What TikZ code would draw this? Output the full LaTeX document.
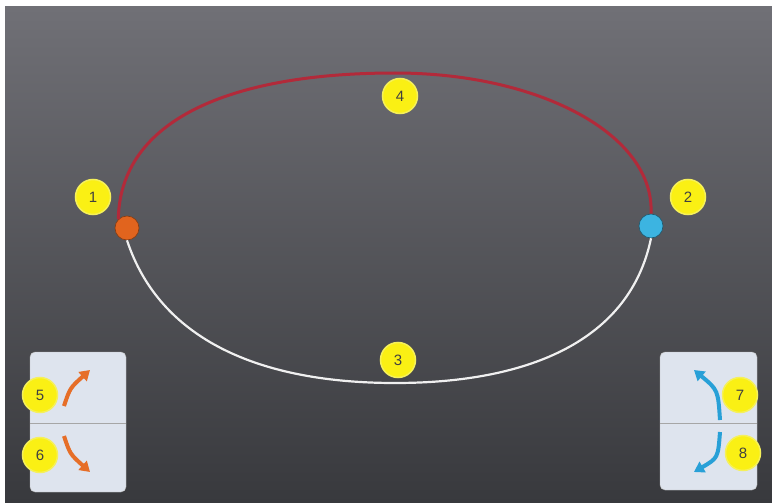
\documentclass[tikz,border=0pt]{standalone}
\usepackage{fontspec}
\setmainfont{Liberation Sans}
\usetikzlibrary{arrows.meta}
\definecolor{panelc}{RGB}{222,228,238}
\definecolor{badgec}{RGB}{250,240,20}
\definecolor{redc}{RGB}{178,42,58}
\definecolor{oranged}{RGB}{225,100,30}
\definecolor{blued}{RGB}{60,180,225}
\definecolor{arrowo}{RGB}{230,110,40}
\definecolor{arrowb}{RGB}{40,160,215}
\begin{document}
\begin{tikzpicture}[x=1pt,y=-1pt,
  badge/.style={circle,fill=badgec,draw={rgb,255:red,245;green,240;blue,90},line width=1.5pt,minimum size=35pt,inner sep=0pt,font=\fontsize{15}{15}\selectfont,text=black!75},
  panel/.style={rounded corners=5pt,fill=panelc,draw=gray!55},
  tipo/.style={-{Triangle[width=12pt,length=10pt]},line width=4pt,color=arrowo},
  tipb/.style={-{Triangle[width=12pt,length=10pt]},line width=4pt,color=arrowb},
]
\useasboundingbox (0,0) rectangle (772,503);
\fill[white] (0,0) rectangle (772,503);
\shade[top color={rgb,255:red,112;green,112;blue,118}, bottom color={rgb,255:red,56;green,57;blue,61}] (5,7) rectangle (772,503);
% dots
\node[circle,fill=oranged,draw=oranged!60!black,line width=0.6pt,minimum size=24pt,inner sep=0pt] (o) at (127,228) {};
\node[circle,fill=blued,draw=blued!50!black,line width=0.6pt,minimum size=24pt,inner sep=0pt] (b) at (651,226) {};
% curves
\draw[line width=3pt,color=redc] (o.north west) .. controls (120,120) and (230,73) .. (395,73) .. controls (540,73) and (655,135) .. (b.north);
\draw[line width=2.2pt,color=white!88!gray] (o.south) .. controls (160,340) and (260,383) .. (395,383) .. controls (530,383) and (630,340) .. (b.south);
% panels
\draw[panel] (30,352) rectangle (126,492);
\draw[gray!70] (30,423) -- (126,423);
\draw[panel] (660,352) rectangle (757,490);
\draw[gray!70] (660,423) -- (757,423);
% arrows
\coordinate (a5s) at (64,406); \coordinate (a5e) at (90,370);
\coordinate (a6s) at (64,436); \coordinate (a6e) at (90,472);
\coordinate (a7s) at (720,420); \coordinate (a7e) at (694,370);
\coordinate (a8s) at (720,432); \coordinate (a8e) at (694,472);
\draw[tipo] (a5s) .. controls (70,388) .. (a5e);
\draw[tipo] (a6s) .. controls (70,454) .. (a6e);
\draw[tipb] (a7s) .. controls (718,390) .. (a7e);
\draw[tipb] (a8s) .. controls (718,458) .. (a8e);
% badges
\node[badge] (n1) at (93,197) {1};
\node[badge] (n2) at (688,197) {2};
\node[badge] (n4) at (400,96) {4};
\node[badge] (n3) at (398,360) {3};
\node[badge] (n5) at (40,395) {5};
\node[badge] (n6) at (40,455) {6};
\node[badge] (n7) at (740,395) {7};
\node[badge] (n8) at (743,453) {8};
\end{tikzpicture}
\end{document}
